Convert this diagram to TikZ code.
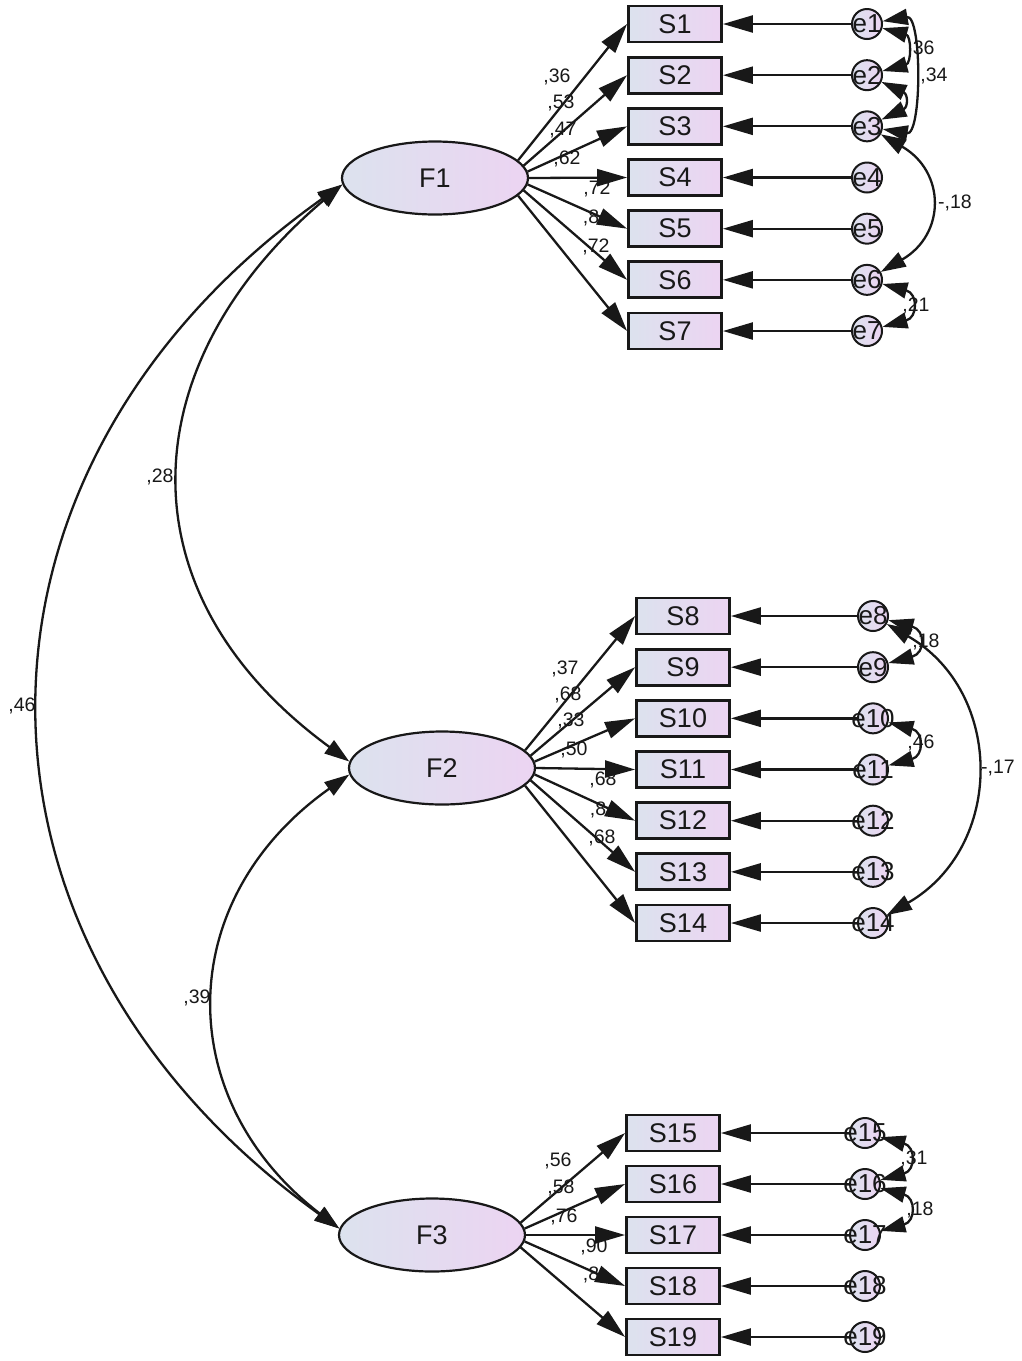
\documentclass[tikz,border=0pt]{standalone}
\usepackage{fontspec}
\setmainfont{Liberation Sans}
\usetikzlibrary{arrows.meta,shapes.geometric}
\definecolor{shL}{RGB}{220,226,238}
\definecolor{shR}{RGB}{236,212,242}
\definecolor{ink}{RGB}{24,24,24}
\begin{document}
\begin{tikzpicture}[x=1pt,y=1pt,
 lat/.style={ellipse,draw=ink,line width=2.2pt,minimum width=186pt,minimum height=73pt,inner sep=0pt,left color=shL,right color=shR,font=\fontsize{27}{27}\selectfont,text=ink},
 obs/.style={rectangle,draw=ink,line width=2.8pt,minimum width=93pt,minimum height=36pt,inner sep=0pt,left color=shL,right color=shR,font=\fontsize{27}{27}\selectfont,text=ink},
 err/.style={circle,draw=ink,line width=2pt,minimum size=30pt,inner sep=0pt,left color=shL,right color=shR,font=\fontsize{26}{26}\selectfont,text=ink},
 pth/.style={line width=2.3pt,draw=ink,-{Triangle[length=30pt,width=17pt]}},
 cov/.style={line width=2.3pt,draw=ink,{Triangle[length=25pt,width=16pt]}-{Triangle[length=25pt,width=16pt]}},
 lbl/.style={font=\fontsize{19.5}{19.5}\selectfont,text=ink,inner sep=0pt}]
\useasboundingbox (0,0) rectangle (1022,-1361);
% ---- labels (drawn first, arrows may overlap them)
\foreach \t/\x/\y in {{,36}/557/77,{,53}/561/103,{,47}/563/130,{,62}/567/159,{,72}/597/189,{,8}/591/218,{,72}/596/247,
  {,37}/565/669,{,68}/568/695,{,33}/571/721,{,50}/574/750,{,68}/603/780,{,8}/598/810,{,68}/602/838,
  {,56}/558/1161,{,58}/561/1188,{,76}/564/1217,{,90}/594/1247,{,8}/591/1275,
  {,36}/921/49,{,34}/934/76,{-,18}/955/203,{,21}/916/306,
  {,18}/926/642,{-,17}/998/768,{,46}/921/743,
  {,31}/914/1159,{,18}/920/1210,
  {,28}/160/477,{,46}/22/706,{,39}/197/998}
  \node[lbl] at (\x,-\y) {\t};
% ---- latent factors
\node[lat] (F1) at (435,-178) {F1};
\node[lat] (F2) at (442,-768) {F2};
\node[lat] (F3) at (432,-1235) {F3};
% ---- observed variables and errors
\foreach \i in {1,...,7}{
  \pgfmathsetmacro\yy{24+51.17*(\i-1)}
  \node[obs] (S\i) at (675,-\yy) {S\i};
  \node[err] (e\i) at (867,-\yy) {\makebox[0pt]{e\i}};
}
\foreach \i in {8,...,14}{
  \pgfmathsetmacro\yy{616+51.17*(\i-8)}
  \node[obs] (S\i) at (683,-\yy) {S\i};
  \node[err] (e\i) at (873,-\yy) {\makebox[0pt]{e\i}};
}
\foreach \i in {15,...,19}{
  \pgfmathsetmacro\yy{1133+51*(\i-15)}
  \node[obs] (S\i) at (673,-\yy) {S\i};
  \node[err] (e\i) at (865,-\yy) {\makebox[0pt]{e\i}};
}
% ---- loadings
\foreach \i/\a in {1/12,2/8,3/4,4/0,5/-4,6/-8,7/-12}
  \draw[pth] (F1.\a) -- (S\i.west);
\foreach \i/\a in {8/12,9/8,10/4,11/0,12/-4,13/-8,14/-12}
  \draw[pth] (F2.\a) -- (S\i.west);
\foreach \i/\a in {15/8,16/4,17/0,18/-4,19/-8}
  \draw[pth] (F3.\a) -- (S\i.west);
% ---- error paths
\foreach \i in {1,...,19}
  \draw[pth] (e\i) -- (S\i);
% ---- error covariances
\draw[cov] (e1) to[out=-15,in=15,looseness=1.8] (e2);
\draw[cov] (e1) to[out=10,in=-10,looseness=0.95] (e3);
\draw[cov] (e2) to[out=-25,in=25,looseness=2] (e3);
\draw[cov] (e3) to[out=-30,in=30,looseness=1.4] (e6);
\draw[cov] (e6) to[out=-15,in=15,looseness=2.2] (e7);
\draw[cov] (e8) to[out=-15,in=15,looseness=2.3] (e9);
\draw[cov] (e8) to[out=-30,in=30,looseness=1.2] (e14);
\draw[cov] (e10) to[out=-15,in=15,looseness=2.2] (e11);
\draw[cov] (e15) to[out=-15,in=15,looseness=2.2] (e16);
\draw[cov] (e16) to[out=-15,in=15,looseness=2.2] (e17);
% ---- factor covariances
\draw[cov] (F1.184) .. controls (-60,-470) and (-60,-942) .. (F3.176);
\draw[cov] (F1.184) .. controls (135,-360) and (115,-590) .. (F2.176);
\draw[cov] (F2.184) .. controls (172,-900) and (172,-1100) .. (F3.176);
\end{tikzpicture}
\end{document}
